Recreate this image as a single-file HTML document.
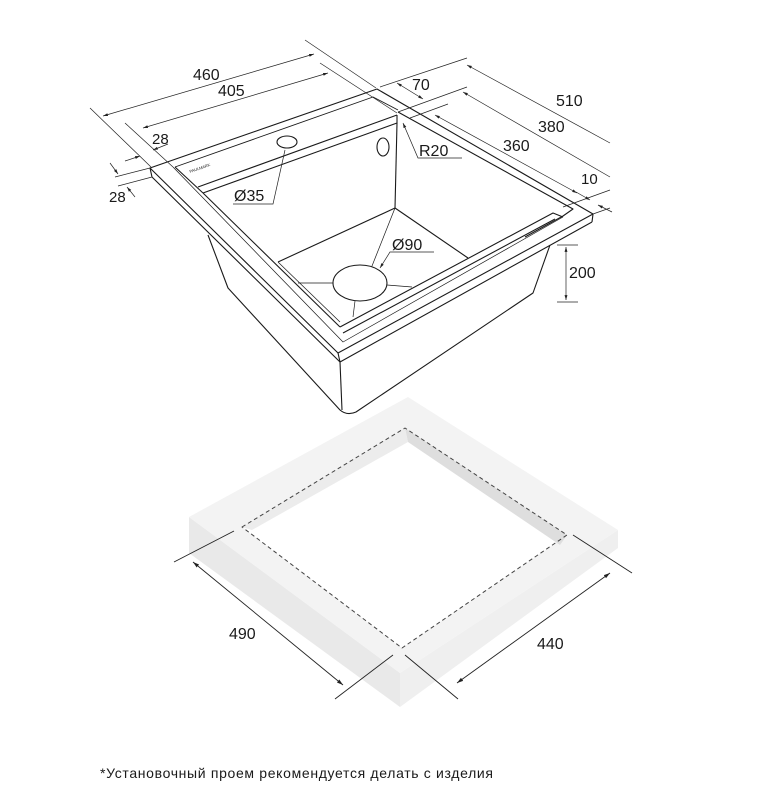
<!DOCTYPE html>
<html><head><meta charset="utf-8"><style>
html,body{margin:0;padding:0;background:#fff;width:772px;height:801px;overflow:hidden}
svg{display:block}
text{font-family:"Liberation Sans",sans-serif;fill:#1a1a1a}
</style></head><body>
<svg width="772" height="801" viewBox="0 0 772 801">
<defs>
<marker id="a" viewBox="0 0 10 10" refX="10" refY="5" markerWidth="7" markerHeight="7" orient="auto-start-reverse"><path d="M0,2 L10,5 L0,8 z" fill="#222"/></marker>
</defs>
<!-- countertop -->
<polygon points="189,517 400,673 400,707 189,553" fill="#e9e9e9"/>
<polygon points="400,673 618,530 618,548 400,707" fill="#efefef"/>
<polygon points="189,517 408,397 618,530 400,673" fill="#f3f3f3"/>
<polygon points="242,527 405,428 567,535 402,648" fill="#fff"/>
<polygon points="242,527 405,428 408,442 252,530" fill="#ececec"/>
<polygon points="405,428 567,535 560,545 408,442" fill="#dedede"/>
<path d="M242,527 L405,428 L567,535 L402,648 Z" fill="none" stroke="#444" stroke-width="1" stroke-dasharray="4,3" stroke-linejoin="round"/>
<g stroke="#222" stroke-width="0.9" fill="none">
<line x1="174" y1="562" x2="234" y2="531"/>
<line x1="335" y1="699" x2="393" y2="655"/>
<line x1="193" y1="562" x2="343" y2="685" marker-start="url(#a)" marker-end="url(#a)"/>
<line x1="405" y1="655" x2="458" y2="699"/>
<line x1="573" y1="535" x2="632" y2="573"/>
<line x1="457" y1="683" x2="610" y2="573" marker-start="url(#a)" marker-end="url(#a)"/>
</g>
<text x="229" y="639" font-size="16">490</text>
<text x="537" y="649" font-size="16">440</text>

<!-- sink -->
<g stroke="#1a1a1a" stroke-width="1.1" fill="none" stroke-linejoin="round">
<path d="M208,235 L228,288 L340,410 Q347,416 356,412 L533,293 L550,245"/>
<line x1="340" y1="362" x2="342" y2="410"/>
<path d="M150,168 L377,89 L593,214 L338,353 Z"/>
<path d="M152,177 L340,362 L592,222"/>
<line x1="150" y1="168" x2="152" y2="177"/>
<line x1="338" y1="353" x2="340" y2="362"/>
<line x1="593" y1="214" x2="592" y2="222"/>
<path d="M173,167 L343,342 L563,217" stroke-width="0.7"/>
<path d="M175,167 L373,97 L398,110" stroke-width="0.9"/>
<path d="M398,112 L573,209 L563,216 L525,237"/>
<line x1="198" y1="187" x2="397" y2="115"/>
<line x1="203" y1="193" x2="397" y2="123"/>
<line x1="175" y1="167" x2="203" y2="193"/>
<line x1="397" y1="115" x2="397" y2="123"/>
<line x1="203" y1="193" x2="340" y2="327"/>
<path d="M340,327 L553,213 L563,217"/>
<line x1="343" y1="333" x2="555" y2="219"/>
<line x1="397" y1="123" x2="395" y2="208"/>
<line x1="395" y1="208" x2="278" y2="262"/>
<line x1="395" y1="208" x2="468" y2="258"/>
<line x1="278" y1="262" x2="340" y2="322" stroke-width="0.7"/>
<line x1="298" y1="283" x2="333" y2="283" stroke-width="0.7"/>
<line x1="387" y1="285" x2="412" y2="287" stroke-width="0.7"/>
<line x1="395" y1="208" x2="372" y2="266" stroke-width="0.7"/>
<line x1="355" y1="301" x2="353" y2="317" stroke-width="0.7"/>
<ellipse cx="360" cy="283" rx="27" ry="18" fill="#fff"/>
<ellipse cx="287" cy="142" rx="10" ry="6"/>
<ellipse cx="383" cy="147" rx="6" ry="9"/>
</g>
<text x="190" y="173" font-size="4" fill="#666" transform="rotate(-19 190 173)">PAULMARK</text>

<g stroke="#222" stroke-width="0.7" fill="none">
<line x1="90" y1="108" x2="151" y2="167"/>
<line x1="305" y1="40" x2="376" y2="88"/>
<line x1="103" y1="116" x2="314" y2="54" marker-start="url(#a)" marker-end="url(#a)"/>
<line x1="125" y1="123" x2="173" y2="167"/>
<line x1="320" y1="63" x2="397" y2="113"/>
<line x1="143" y1="128" x2="328" y2="73" marker-start="url(#a)" marker-end="url(#a)"/>
<line x1="125" y1="161" x2="140" y2="156" marker-end="url(#a)"/>
<line x1="168" y1="144" x2="153" y2="150" marker-end="url(#a)"/>
<line x1="115" y1="177" x2="150" y2="168"/>
<line x1="118" y1="186" x2="152" y2="177"/>
<line x1="110" y1="163" x2="118" y2="174" marker-end="url(#a)"/>
<line x1="135" y1="197" x2="127" y2="187" marker-end="url(#a)"/>
<line x1="380" y1="87" x2="467" y2="58"/>
<line x1="398" y1="112" x2="467" y2="87"/>
<line x1="410" y1="118" x2="448" y2="104"/>
<line x1="397" y1="83" x2="423" y2="99" marker-start="url(#a)" marker-end="url(#a)"/>
<line x1="467" y1="65" x2="610" y2="143" marker-start="url(#a)"/>
<line x1="463" y1="92" x2="610" y2="177" marker-start="url(#a)"/>
<line x1="435" y1="115" x2="577" y2="193" marker-start="url(#a)" marker-end="url(#a)"/>
<line x1="563" y1="207" x2="610" y2="190"/>
<line x1="593" y1="214" x2="610" y2="208"/>
<line x1="576" y1="192" x2="590" y2="200" marker-end="url(#a)"/>
<line x1="612" y1="212" x2="598" y2="205" marker-end="url(#a)"/>
<line x1="557" y1="245" x2="578" y2="245"/>
<line x1="557" y1="302" x2="578" y2="302"/>
<line x1="566" y1="247" x2="566" y2="300" marker-start="url(#a)" marker-end="url(#a)"/>
<polyline points="462,158 418,158 403,123" marker-end="url(#a)"/>
<polyline points="233,204 273,204 285,150"/>
<polyline points="434,252 390,252 380,268" marker-end="url(#a)"/>
</g>
<text x="193" y="80" font-size="16">460</text>
<text x="218" y="96" font-size="16">405</text>
<text x="152" y="144" font-size="15">28</text>
<text x="109" y="202" font-size="15">28</text>
<text x="412" y="90" font-size="16">70</text>
<text x="556" y="106" font-size="16">510</text>
<text x="538" y="132" font-size="16">380</text>
<text x="503" y="151" font-size="16">360</text>
<text x="581" y="184" font-size="15">10</text>
<text x="419" y="156" font-size="16">R20</text>
<text x="234" y="201" font-size="16">Ø35</text>
<text x="392" y="250" font-size="16">Ø90</text>
<text x="569" y="278" font-size="16">200</text>
<text x="100" y="778" font-size="14" textLength="393" lengthAdjust="spacing">*Установочный проем рекомендуется делать с изделия</text>
</svg>
</body></html>
